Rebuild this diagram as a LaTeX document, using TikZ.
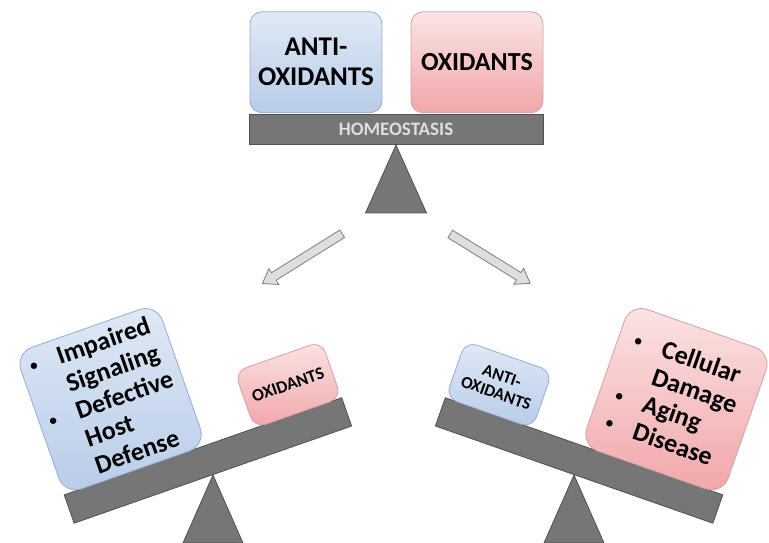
\documentclass[tikz,border=0pt]{standalone}
\usepackage{fontspec}
\setmainfont{Carlito}
\usepackage{xcolor}
\usetikzlibrary{shapes.arrows}

\definecolor{bluetop}{RGB}{224,233,246}
\definecolor{bluebot}{RGB}{184,204,232}
\definecolor{blueline}{RGB}{150,172,205}
\definecolor{redtop}{RGB}{251,228,228}
\definecolor{redbot}{RGB}{241,166,170}
\definecolor{redline}{RGB}{212,160,162}
\definecolor{beamgray}{RGB}{118,118,118}
\definecolor{beamline}{RGB}{80,80,80}
\definecolor{homegray}{RGB}{222,222,222}
\definecolor{arrowfill}{RGB}{222,222,222}
\definecolor{arrowline}{RGB}{125,125,125}

\newcommand{\bul}{\makebox[29pt][l]{\raisebox{3pt}{\fontsize{15}{15}\selectfont\textbullet}}}
\newcommand{\nobul}{\hspace*{29pt}}

\begin{document}
\begin{tikzpicture}[x=1pt,y=1pt,
  beam/.style={draw=beamline,fill=beamgray,line width=0.8pt,minimum width=294pt,minimum height=30pt,inner sep=0pt,anchor=south},
  fulcrum/.style={draw=beamline,fill=beamgray,line width=0.8pt},
  antibox/.style={draw=blueline,top color=bluetop,bottom color=bluebot,line width=0.8pt,rounded corners=12pt,inner sep=0pt,align=center,font=\bfseries},
  oxbox/.style={draw=redline,top color=redtop,bottom color=redbot,line width=0.8pt,rounded corners=12pt,inner sep=0pt,align=center,font=\bfseries},
  fatarrow/.style={single arrow,draw=arrowline,fill=arrowfill,line width=0.8pt,minimum height=94pt,minimum width=0pt,inner xsep=0pt,inner ysep=4pt,single arrow head extend=5pt,single arrow tip angle=70}]
\useasboundingbox (0,0) rectangle (769,543);

% balance in homeostasis
\draw[fulcrum] (396,398) -- (365.5,330) -- (426.5,330) -- cycle;
\node[beam] (topbeam) at (396,398) {\color{homegray}\bfseries\fontsize{19}{19}\selectfont HOMEOSTASIS};
\node[antibox,minimum width=132pt,minimum height=101pt,anchor=south west,font=\bfseries\fontsize{27}{30}\selectfont] (topanti) at ([shift={(1,1)}]topbeam.north west) {ANTI-\\OXIDANTS};
\node[oxbox,minimum width=132pt,minimum height=101pt,anchor=south east,font=\bfseries\fontsize{26}{30}\selectfont] (topox) at ([shift={(0,1)}]topbeam.north east) {OXIDANTS};

% tipped towards antioxidants
\draw[fulcrum] (213,68) -- (183,0) -- (243,0) -- cycle;
\begin{scope}[shift={(213,68)},rotate=19.3]
\node[beam,transform shape] (lbeam) at (0,0) {};
\node[antibox,transform shape,rounded corners=18pt,minimum width=150pt,minimum height=150pt,anchor=south west,align=left,font=\bfseries\fontsize{26}{29}\selectfont] (lload) at (-147,30)
  {\bul Impaired\\ \nobul Signaling\\ \bul Defective\\ \nobul Host\\ \nobul Defense};
\node[oxbox,transform shape,minimum width=92pt,minimum height=60pt,anchor=south east,font=\bfseries\fontsize{17.5}{18}\selectfont] (lweight) at (147,30) {OXIDANTS};
\end{scope}

% tipped towards oxidants
\draw[fulcrum] (574,68) -- (544,0) -- (604,0) -- cycle;
\begin{scope}[shift={(574,68)},rotate=-19.3]
\node[beam,transform shape] (rbeam) at (0,0) {};
\node[antibox,transform shape,minimum width=92pt,minimum height=60pt,anchor=south west,font=\bfseries\fontsize{17}{18}\selectfont] (rweight) at (-147,30) {ANTI-\\OXIDANTS};
\node[oxbox,transform shape,rounded corners=18pt,minimum width=150pt,minimum height=150pt,anchor=south east,align=left,font=\bfseries\fontsize{26}{29}\selectfont] (rload) at (147,30)
  {\bul Cellular\\ \nobul Damage\\ \bul Aging\\ \bul Disease};
\end{scope}

\coordinate (ltail) at (345,311);
\coordinate (lhead) at (265,261);
\coordinate (rtail) at (447,311);
\coordinate (rhead) at (528,261);
\path (ltail) -- node[fatarrow,sloped,allow upside down] {} (lhead);
\path (rtail) -- node[fatarrow,sloped,allow upside down] {} (rhead);
\end{tikzpicture}
\end{document}
